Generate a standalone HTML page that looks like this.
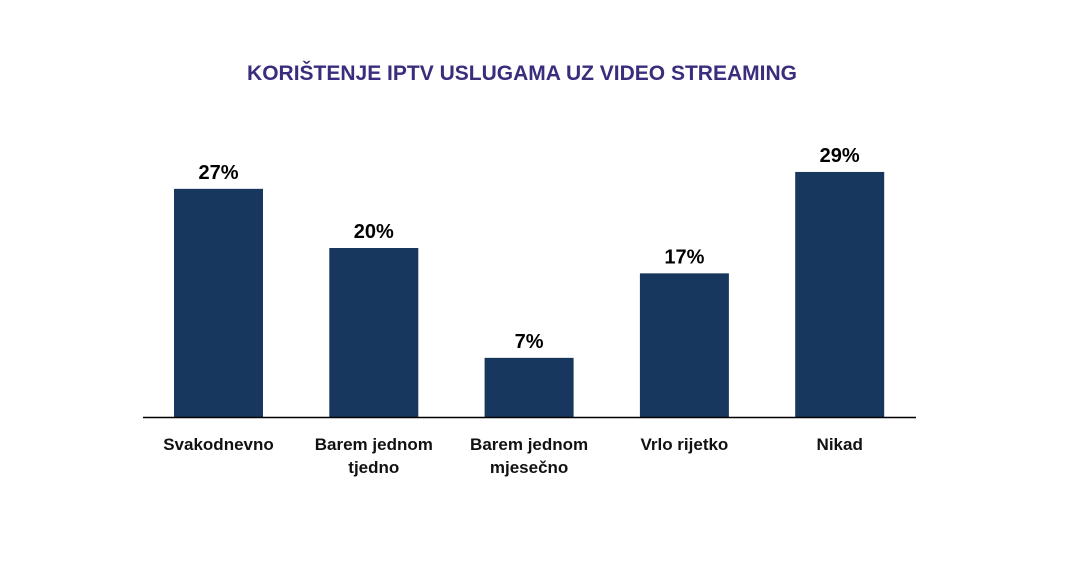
<!DOCTYPE html>
<html><head><meta charset="utf-8"><style>
body{margin:0;background:#fff;}
svg{display:block;font-family:"Liberation Sans",sans-serif;}
</style></head><body>
<svg id="chart" width="1079" height="566" viewBox="0 0 1079 566">
<rect width="1079" height="566" fill="#fff"/>
<text x="522" y="80" text-anchor="middle" font-size="21" font-weight="bold" fill="#3b2c7d">KORIŠTENJE IPTV USLUGAMA UZ VIDEO STREAMING</text>
<g id="bars"></g>
<line x1="143" y1="417.5" x2="916" y2="417.5" stroke="#000" stroke-width="1.5"/>
</svg>
<script>
const categories = [["Svakodnevno"],["Barem jednom","tjedno"],["Barem jednom","mjesečno"],["Vrlo rijetko"],["Nikad"]];
const values = [27, 20, 7, 17, 29];
const valueLabels = ["27%","20%","7%","17%","29%"];
const baseY = 417, pxPer = 8.45, x0 = 174, step = 155.3, bw = 89;
const yScale = v => baseY - v * pxPer;
const xScale = i => x0 + i * step;
const g = document.getElementById('bars');
const ns = 'http://www.w3.org/2000/svg';
values.forEach((v, i) => {
  const r = document.createElementNS(ns, 'rect');
  
  
  r.setAttribute('x', xScale(i)); r.setAttribute('y', yScale(v));
  r.setAttribute('width', bw); r.setAttribute('height', baseY - yScale(v));
  r.setAttribute('fill', '#17375e');
  g.appendChild(r);
  const t = document.createElementNS(ns, 'text');
  
  
  t.setAttribute('x', xScale(i) + bw / 2); t.setAttribute('y', yScale(v) - 10);
  t.setAttribute('text-anchor', 'middle'); t.setAttribute('font-size', '20'); t.setAttribute('font-weight', 'bold');
  t.textContent = valueLabels[i];
  g.appendChild(t);
  categories[i].forEach((line, j) => {
    const c = document.createElementNS(ns, 'text');
    
    
    c.setAttribute('x', xScale(i) + bw / 2); c.setAttribute('y', 450 + j * 23);
    c.setAttribute('text-anchor', 'middle'); c.setAttribute('font-size', '17'); c.setAttribute('font-weight', 'bold'); c.setAttribute('fill', '#111');
    c.textContent = line;
    g.appendChild(c);
  });
});
</script>
</body></html>
